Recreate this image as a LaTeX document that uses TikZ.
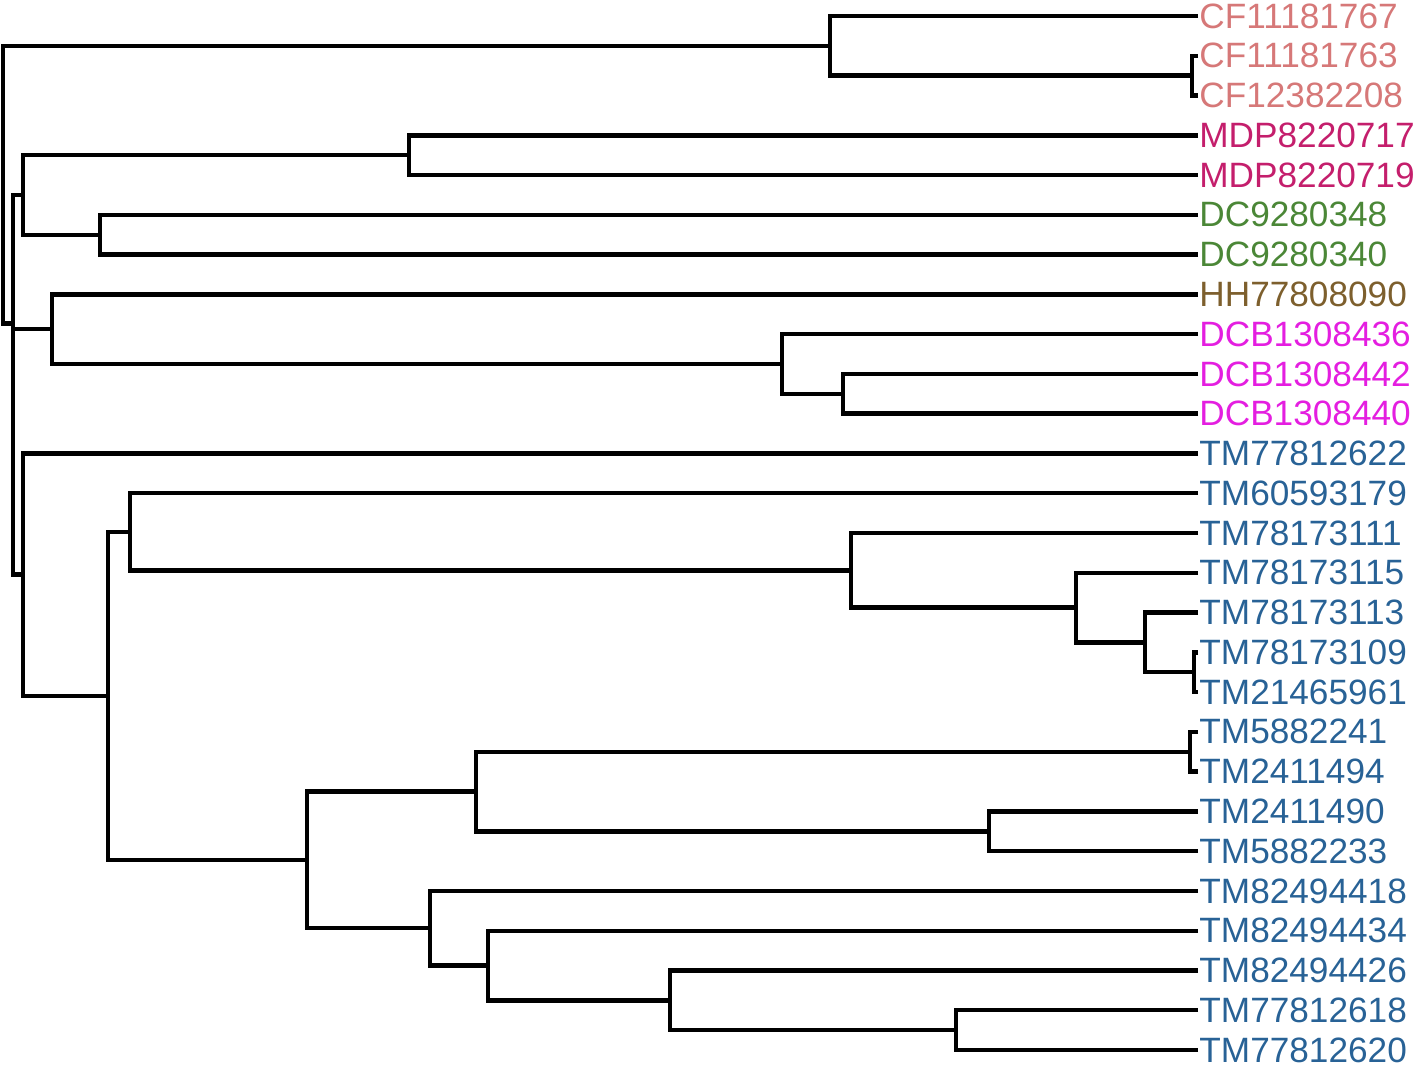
\documentclass[tikz,border=0pt]{standalone}
\usepackage{fontspec}
\setmainfont{Liberation Sans}
\definecolor{cfc}{RGB}{214,120,120}
\definecolor{mdpc}{RGB}{196,30,108}
\definecolor{dcc}{RGB}{75,135,55}
\definecolor{hhc}{RGB}{125,95,45}
\definecolor{dcbc}{RGB}{228,30,224}
\definecolor{tmc}{RGB}{40,98,150}
\begin{document}
\begin{tikzpicture}[x=0.5pt,y=-0.5pt,
  edge/.style={line width=2.2pt, black, line join=miter},
  leaf/.style={anchor=west, inner sep=0pt, font=\fontsize{17.6}{20}\selectfont}]
\useasboundingbox (0,0) rectangle (1416,1068);
% leaves and labels
\foreach \i/\n/\c in {1/CF11181767/cfc, 2/CF11181763/cfc, 3/CF12382208/cfc,
  4/MDP8220717/mdpc, 5/MDP8220719/mdpc, 6/DC9280348/dcc, 7/DC9280340/dcc,
  8/HH77808090/hhc, 9/DCB1308436/dcbc, 10/DCB1308442/dcbc, 11/DCB1308440/dcbc,
  12/TM77812622/tmc, 13/TM60593179/tmc, 14/TM78173111/tmc, 15/TM78173115/tmc,
  16/TM78173113/tmc, 17/TM78173109/tmc, 18/TM21465961/tmc, 19/TM5882241/tmc,
  20/TM2411494/tmc, 21/TM2411490/tmc, 22/TM5882233/tmc, 23/TM82494418/tmc,
  24/TM82494434/tmc, 25/TM82494426/tmc, 26/TM77812618/tmc, 27/TM77812620/tmc}{
  \coordinate (l\i) at (1198,{16+39.77*(\i-1)});
  \node[leaf,text=\c] (t\i) at ([xshift=0.5pt]l\i) {\n};
}
% internal nodes
\coordinate (CF23) at (1192,75.65);
\coordinate (CF) at (830,45.8);
\coordinate (MDP) at (409,155.2);
\coordinate (DC) at (100,234.75);
\coordinate (MDPDC) at (23,195);
\coordinate (DCB2) at (843,393.8);
\coordinate (DCB) at (782,364);
\coordinate (HHDCB) at (52,329.2);
\coordinate (T1) at (1194,672.2);
\coordinate (T2) at (1145,642.4);
\coordinate (T3) at (1076,607.6);
\coordinate (T4) at (851,570.3);
\coordinate (T5) at (130,531.75);
\coordinate (U1) at (1190,751.75);
\coordinate (U2) at (989,831.3);
\coordinate (U3) at (476,791.5);
\coordinate (V1) at (956,1030.15);
\coordinate (V2) at (670,1000.3);
\coordinate (V3) at (488,965.5);
\coordinate (V4) at (430,928.25);
\coordinate (W) at (307,859.9);
\coordinate (X) at (108,695.8);
\coordinate (TM) at (23,574.65);
\coordinate (Q) at (13,451.9);
\coordinate (R) at (13,323.4);
\coordinate (Root) at (3,184.6);
% edges
\foreach \a/\b in {l1/CF, CF23/CF, l2/CF23, l3/CF23, CF/Root, R/Root,
  l4/MDP, l5/MDP, MDP/MDPDC, DC/MDPDC, l6/DC, l7/DC, MDPDC/R, Q/R,
  HHDCB/Q, TM/Q, l8/HHDCB, DCB/HHDCB, l9/DCB, DCB2/DCB, l10/DCB2, l11/DCB2,
  l12/TM, X/TM, T5/X, W/X, l13/T5, T4/T5, l14/T4, T3/T4, l15/T3, T2/T3,
  l16/T2, T1/T2, l17/T1, l18/T1, U3/W, V4/W, U1/U3, U2/U3, l19/U1, l20/U1,
  l21/U2, l22/U2, l23/V4, V3/V4, l24/V3, V2/V3, l25/V2, V1/V2, l26/V1, l27/V1}{
  \draw[edge] (\a) -| (\b);
}
\end{tikzpicture}
\end{document}
